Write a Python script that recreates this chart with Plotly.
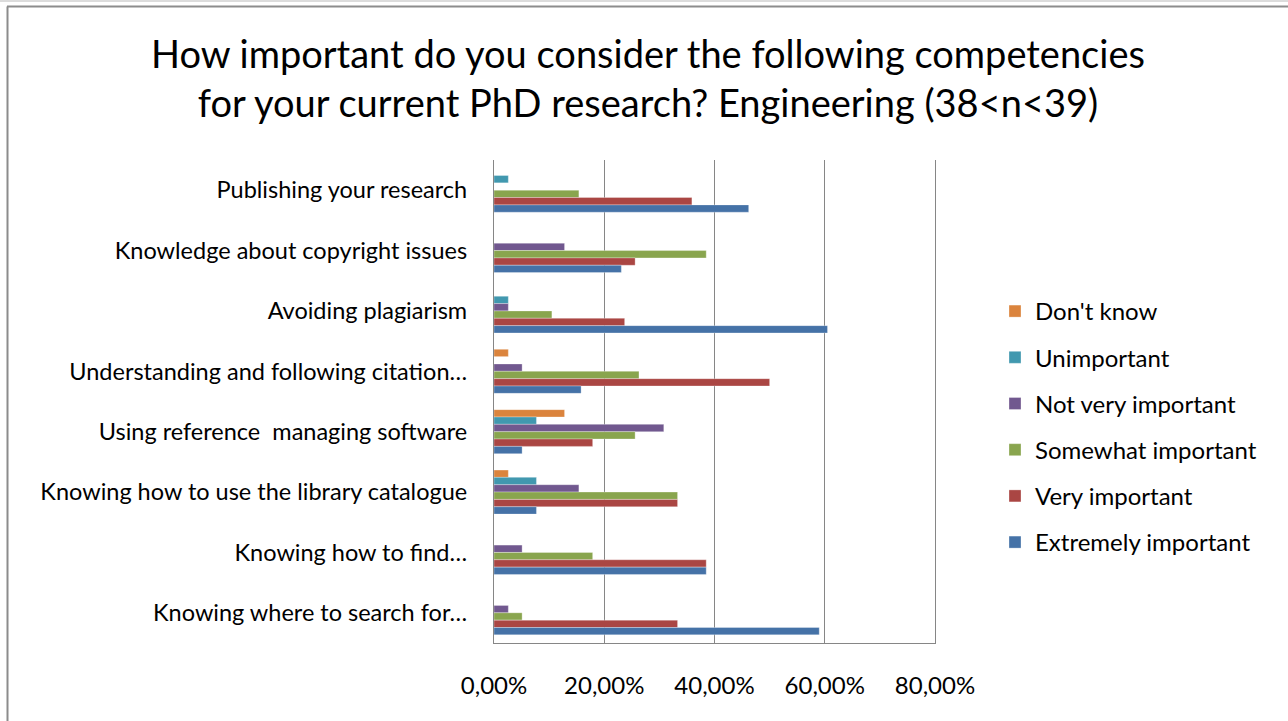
import plotly.graph_objects as go

categories = [
    "Publishing your research",
    "Knowledge about copyright issues",
    "Avoiding plagiarism",
    "Understanding and following citation…",
    "Using reference  managing software",
    "Knowing how to use the library catalogue",
    "Knowing how to find…",
    "Knowing where to search for…",
]

series_names = [
    "Don't know",
    "Unimportant",
    "Not very important",
    "Somewhat important",
    "Very important",
    "Extremely important",
]

dont_know = [0.0, 0.0, 0.0, 0.026, 0.128, 0.026, 0.0, 0.0]
unimportant = [0.026, 0.0, 0.026, 0.0, 0.077, 0.077, 0.0, 0.0]
not_very_important = [0.0, 0.128, 0.026, 0.051, 0.308, 0.154, 0.051, 0.026]
somewhat_important = [0.154, 0.385, 0.105, 0.263, 0.256, 0.333, 0.179, 0.051]
very_important = [0.359, 0.256, 0.237, 0.500, 0.179, 0.333, 0.385, 0.333]
extremely_important = [0.462, 0.231, 0.605, 0.158, 0.051, 0.077, 0.385, 0.590]

series_values = [dont_know, unimportant, not_very_important,
                 somewhat_important, very_important, extremely_important]
colors = ["#DB843D", "#4198AF", "#71588F", "#89A54E", "#AA4643", "#4572A7"]

tick_vals = [0, 0.2, 0.4, 0.6, 0.8]
tick_text = ["0,00%", "20,00%", "40,00%", "60,00%", "80,00%"]

FONT = "Lato"
W, H = 1288, 721
L, R, T, B = 494, 353, 160, 78

fig = go.Figure()
for name, vals, col in zip(series_names, series_values, colors):
    fig.add_trace(go.Bar(
        y=categories, x=vals, name=name, orientation="h",
        marker=dict(color=col, line=dict(color="rgba(255,255,255,0.6)", width=0.5)),
        legendgroup=name,
    ))


def px2x(px):
    return (px - L) / (W - L - R)


def px2y(py):
    return (H - B - py) / (H - B - T)


shapes = [
    dict(type="line", xref="paper", yref="paper", x0=px2x(0), x1=px2x(W),
         y0=px2y(1), y1=px2y(1), line=dict(color="#d0d0d0", width=1.5)),
    dict(type="line", xref="paper", yref="paper", x0=px2x(7), x1=px2x(W),
         y0=px2y(6.5), y1=px2y(6.5), line=dict(color="#8c8c8c", width=2)),
    dict(type="line", xref="paper", yref="paper", x0=px2x(7.5), x1=px2x(7.5),
         y0=px2y(6.5), y1=px2y(H), line=dict(color="#8c8c8c", width=2)),
]

fig.update_layout(
    width=W, height=H,
    margin=dict(l=L, r=R, t=T, b=B),
    paper_bgcolor="white", plot_bgcolor="white",
    barmode="group", bargap=0.27, bargroupgap=0,
    font=dict(family=FONT, color="#000000"),
    title=dict(
        text="How important do you consider the following competencies<br>for your current PhD research? Engineering (38<n<39)",
        x=648 / W, xanchor="center", y=1 - 68 / H, yanchor="middle",
        font=dict(family=FONT, size=38, color="#000000"),
    ),
    xaxis=dict(
        range=[0, 0.8], tickvals=tick_vals, ticktext=tick_text,
        showgrid=True, gridcolor="#868686", gridwidth=1.3,
        showline=True, linecolor="#868686", linewidth=1.3,
        zeroline=False, ticks="", ticklabelstandoff=21,
        tickfont=dict(family=FONT, size=24, color="#000000"),
        fixedrange=True,
    ),
    yaxis=dict(
        autorange="reversed", showgrid=False,
        showline=True, linecolor="#868686", linewidth=1.3, mirror=True,
        ticks="", ticklabelstandoff=21,
        tickfont=dict(family=FONT, size=23.5, color="#000000"),
        fixedrange=True,
    ),
    legend=dict(
        x=px2x(995), xanchor="left", y=px2y(289), yanchor="top",
        traceorder="grouped", tracegroupgap=12,
        font=dict(family=FONT, size=24, color="#000000"),
        bgcolor="rgba(0,0,0,0)",
    ),
    shapes=shapes,
)

fig.write_html(
    "out.html",
    config={"displayModeBar": False},
    post_script="document.body.style.margin='0';document.body.style.padding='0';",
)
